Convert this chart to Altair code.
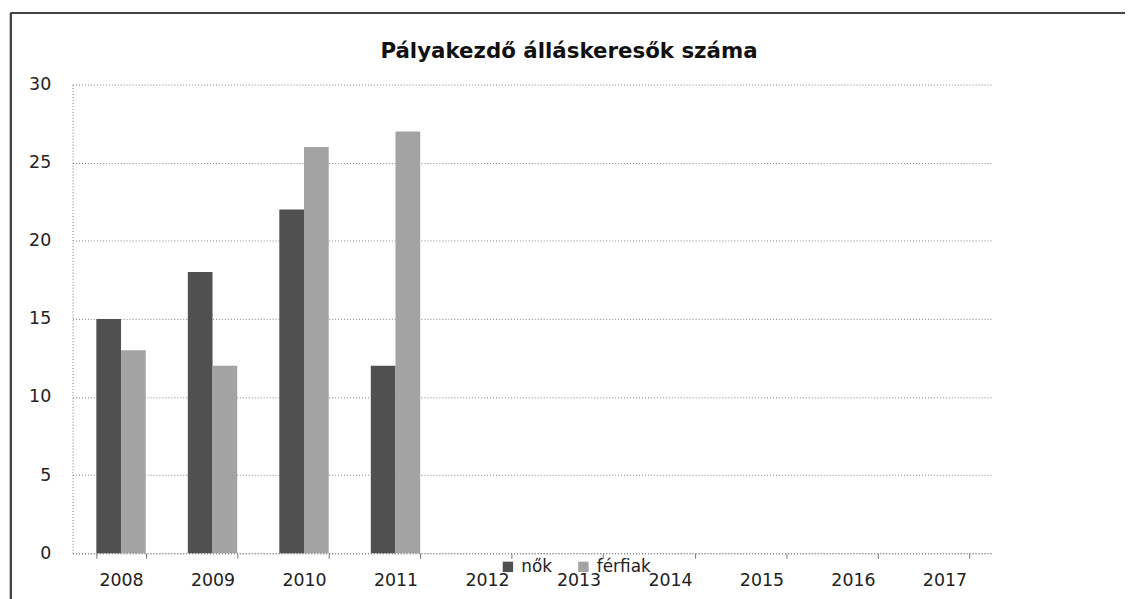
import altair as alt
import pandas as pd

years = ["2008", "2009", "2010", "2011", "2012", "2013", "2014", "2015", "2016", "2017"]
series = ["nők", "férfiak"]
nok = [15, 18, 22, 12, None, None, None, None, None, None]
ferfiak = [13, 12, 26, 27, None, None, None, None, None, None]
colors = ["#505050", "#a3a3a3"]
title_text = "Pályakezdő álláskeresők száma"

rows = []
for i, y in enumerate(years):
    rows.append({"ev": y, "nem": series[0], "ertek": nok[i]})
    rows.append({"ev": y, "nem": series[1], "ertek": ferfiak[i]})
df = pd.DataFrame(rows)

FONT = "DejaVu Sans"

bars = alt.Chart(df).mark_bar().encode(
    x=alt.X("ev:N", sort=years, title=None,
            scale=alt.Scale(domain=years, paddingInner=0.46, paddingOuter=0.26),
            axis=alt.Axis(labelAngle=0, labelFontSize=17.5, labelFont=FONT, labelColor="#222",
                          labelPadding=14, tickBand="extent", tickSize=5, tickColor="#777",
                          domainColor="#777", domainDash=[1, 2], grid=False)),
    xOffset=alt.XOffset("nem:N", sort=series, scale=alt.Scale(domain=series, paddingInner=0, paddingOuter=0)),
    y=alt.Y("ertek:Q", title=None,
            scale=alt.Scale(domain=[0, 30], nice=False),
            axis=alt.Axis(values=[0, 5, 10, 15, 20, 25, 30], labelFontSize=17.5, labelFont=FONT,
                          labelColor="#222", labelPadding=22, ticks=False,
                          domainColor="#777", domainDash=[1, 2],
                          grid=True, gridColor="#808080", gridDash=[1, 2])),
    color=alt.Color("nem:N", sort=series,
                    scale=alt.Scale(domain=series, range=colors),
                    legend=alt.Legend(title=None, orient="none", legendX=430, legendY=477,
                                      direction="horizontal", symbolType="square", symbolSize=110,
                                      symbolStrokeWidth=0, labelFontSize=17, labelFont=FONT,
                                      labelColor="#222", columnPadding=22, labelOffset=5)),
)

title_mark = alt.Chart(pd.DataFrame({"t": [title_text]})).mark_text(
    font=FONT, fontSize=21.5, fontWeight="bold", color="#111", align="center", baseline="alphabetic"
).encode(text="t:N", x=alt.value(500), y=alt.value(-27))

frame_left = alt.Chart(df).mark_rule(color="#444", strokeWidth=2, clip=False).encode(
    x=alt.value(-62), y=alt.value(-72), y2=alt.value(520)
)
frame_top = alt.Chart(df).mark_rule(color="#444", strokeWidth=2, clip=False).encode(
    x=alt.value(-62), x2=alt.value(1060), y=alt.value(-72)
)

chart = alt.layer(bars, title_mark, frame_left, frame_top).properties(
    width=927, height=472,
    autosize=alt.AutoSizeParams(type="none"),
    padding={"left": 65, "top": 75, "right": 133, "bottom": 44},
).configure_view(stroke=None)

chart.save("out.html", embed_options={"renderer": "svg", "actions": False})
